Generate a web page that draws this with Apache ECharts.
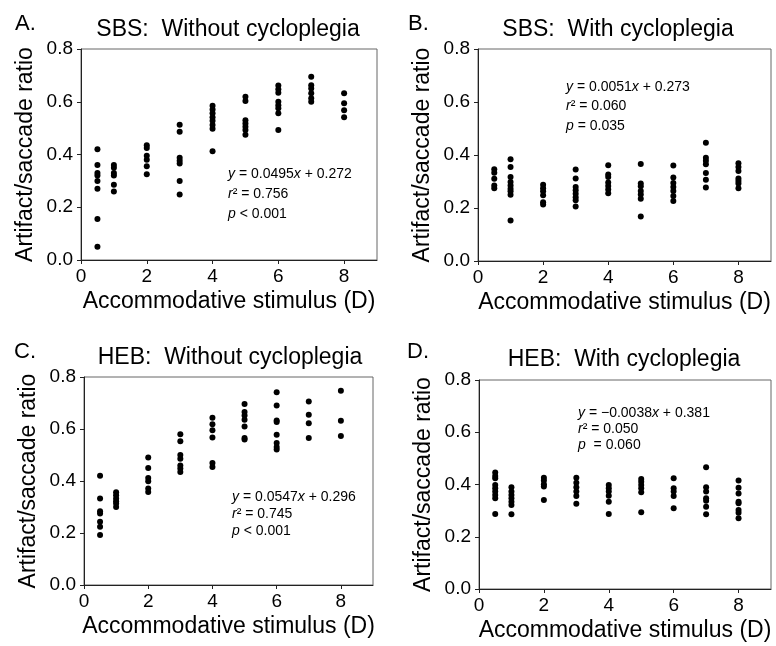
<!DOCTYPE html>
<html>
<head>
<meta charset="utf-8">
<script src="https://cdn.jsdelivr.net/npm/echarts@6/dist/echarts.min.js"></script>
<style>
  html, body { margin: 0; padding: 0; background: #fff; }
  #main { width: 776px; height: 646px; }
</style>
</head>
<body>
<div id="main"></div>
<script>
// accommodative stimulus levels (D)
var xLevels = [0.5, 1, 2, 3, 4, 5, 6, 7, 8];
var xTicks = [0, 2, 4, 6, 8];
var yTicks = [0, 0.2, 0.4, 0.6, 0.8];

// artifact/saccade ratio, one list per stimulus level
var sbsWithout = [
  [0.42, 0.36, 0.33, 0.32, 0.30, 0.27, 0.155, 0.05],
  [0.36, 0.35, 0.33, 0.32, 0.285, 0.26],
  [0.435, 0.425, 0.395, 0.38, 0.355, 0.325],
  [0.513, 0.486, 0.388, 0.376, 0.366, 0.30, 0.248],
  [0.585, 0.571, 0.556, 0.541, 0.528, 0.512, 0.498, 0.412],
  [0.619, 0.603, 0.53, 0.518, 0.505, 0.493, 0.475],
  [0.662, 0.647, 0.634, 0.60, 0.587, 0.575, 0.556, 0.493],
  [0.695, 0.663, 0.65, 0.632, 0.613, 0.60],
  [0.632, 0.594, 0.568, 0.541]
];
var sbsWith = [
  [0.346, 0.333, 0.31, 0.285, 0.275],
  [0.384, 0.355, 0.317, 0.298, 0.285, 0.273, 0.263, 0.25, 0.153],
  [0.288, 0.275, 0.263, 0.248, 0.222, 0.213],
  [0.345, 0.311, 0.279, 0.267, 0.254, 0.241, 0.229, 0.206],
  [0.361, 0.326, 0.317, 0.296, 0.283, 0.27, 0.256],
  [0.366, 0.292, 0.282, 0.264, 0.251, 0.235, 0.168],
  [0.36, 0.315, 0.294, 0.279, 0.264, 0.245, 0.226],
  [0.446, 0.39, 0.378, 0.365, 0.332, 0.307, 0.277],
  [0.369, 0.355, 0.34, 0.311, 0.302, 0.292, 0.275]
];
var hebWithout = [
  [0.42, 0.333, 0.284, 0.275, 0.243, 0.224, 0.192],
  [0.357, 0.345, 0.333, 0.322, 0.313, 0.30],
  [0.49, 0.45, 0.412, 0.399, 0.371, 0.358],
  [0.58, 0.553, 0.50, 0.486, 0.46, 0.448, 0.435],
  [0.643, 0.618, 0.595, 0.567, 0.469, 0.454],
  [0.696, 0.665, 0.652, 0.636, 0.61, 0.565, 0.56],
  [0.741, 0.69, 0.633, 0.627, 0.578, 0.546, 0.531, 0.521],
  [0.706, 0.655, 0.622, 0.565],
  [0.747, 0.632, 0.573]
];
var hebWith = [
  [0.446, 0.433, 0.424, 0.398, 0.386, 0.373, 0.36, 0.347, 0.287],
  [0.389, 0.373, 0.36, 0.347, 0.334, 0.322, 0.286],
  [0.426, 0.415, 0.401, 0.392, 0.341],
  [0.426, 0.407, 0.389, 0.373, 0.356, 0.326],
  [0.398, 0.386, 0.373, 0.357, 0.334, 0.287],
  [0.421, 0.411, 0.398, 0.386, 0.37, 0.294],
  [0.424, 0.386, 0.373, 0.356, 0.309],
  [0.466, 0.389, 0.373, 0.347, 0.338, 0.315, 0.286],
  [0.415, 0.388, 0.366, 0.334, 0.328, 0.302, 0.292, 0.271]
];

var panelTitles = ['SBS:  Without cycloplegia', 'SBS:  With cycloplegia', 'HEB:  Without cycloplegia', 'HEB:  With cycloplegia'];
var panelLetters = ['A.', 'B.', 'C.', 'D.'];
var equations = [
  ['{i|y} = 0.0495{i|x} + 0.272', '{i|r}\u00b2 = 0.756', '{i|p} < 0.001'],
  ['{i|y} = 0.0051{i|x} + 0.273', '{i|r}\u00b2 = 0.060', '{i|p} = 0.035'],
  ['{i|y} = 0.0547{i|x} + 0.296', '{i|r}\u00b2 = 0.745', '{i|p} < 0.001'],
  ['{i|y} = \u22120.0038{i|x} + 0.381', '{i|r}\u00b2 = 0.050', '{i|p}  = 0.060']
];
var xName = 'Accommodative stimulus (D)';
var yName = 'Artifact/saccade ratio';

var FONT = '"Liberation Sans", Arial, Helvetica, sans-serif';
var panelData = [sbsWithout, sbsWith, hebWithout, hebWith];

// plot boxes
var grids = [
  { left: 81, top: 49, width: 296, height: 211 },
  { left: 478, top: 49, width: 293, height: 212 },
  { left: 84, top: 377, width: 289, height: 208 },
  { left: 479, top: 380, width: 292, height: 209 }
];
// title / letter / equation positions
var titlePos = [[228, 30], [618, 30], [230, 358], [624, 360]];
var letterPos = [[15, 24], [408, 24], [14, 352], [407, 352]];
var eqPos = [[228, 174, 20], [566, 87, 19.5], [232, 497, 17], [578, 413, 16]];

function toPoints(groups) {
  var pts = [];
  for (var i = 0; i < groups.length; i++) {
    for (var j = 0; j < groups[i].length; j++) {
      pts.push([xLevels[i], groups[i][j]]);
    }
  }
  return pts;
}

var xAxes = [], yAxes = [], series = [], graphics = [];
for (var k = 0; k < 4; k++) {
  grids[k].show = true;
  grids[k].borderColor = '#666';
  grids[k].borderWidth = 1;
  xAxes.push({
    type: 'value', gridIndex: k, min: 0, max: 9, interval: 2,
    name: xName, nameLocation: 'middle', nameGap: 30,
    nameTextStyle: { fontFamily: FONT, fontSize: 23, color: '#000' },
    axisLine: { show: true, onZero: false, lineStyle: { color: '#222', width: 1 } },
    axisTick: { show: true, length: 4, customValues: xTicks, lineStyle: { color: '#222' } },
    axisLabel: { customValues: xTicks, margin: 7, fontFamily: FONT, fontSize: 19, color: '#000' },
    splitLine: { show: false }
  });
  yAxes.push({
    type: 'value', gridIndex: k, min: 0, max: 0.8, interval: 0.2,
    name: yName, nameLocation: 'middle', nameGap: 44,
    nameTextStyle: { fontFamily: FONT, fontSize: 23, color: '#000' },
    axisLine: { show: true, onZero: false, lineStyle: { color: '#222', width: 1 } },
    axisTick: { show: true, length: 4, lineStyle: { color: '#222' } },
    axisLabel: { margin: 8, fontFamily: FONT, fontSize: 19, color: '#000',
      formatter: function (v) { return v.toFixed(1); } },
    splitLine: { show: false }
  });
  series.push({
    type: 'scatter', xAxisIndex: k, yAxisIndex: k,
    symbol: 'circle', symbolSize: 6,
    itemStyle: { color: '#000', opacity: 1 },
    data: toPoints(panelData[k])
  });
  graphics.push({
    type: 'text', left: letterPos[k][0], top: letterPos[k][1] - 11,
    style: { text: panelLetters[k], font: '22px ' + FONT, fill: '#000' }
  });
  graphics.push({
    type: 'text', x: titlePos[k][0], y: titlePos[k][1],
    style: { text: panelTitles[k], font: '23px ' + FONT, fill: '#000', align: 'center', verticalAlign: 'middle' }
  });
  for (var e = 0; e < 3; e++) {
    graphics.push({
      type: 'text', x: eqPos[k][0], y: eqPos[k][1] + e * eqPos[k][2],
      style: {
        text: equations[k][e], fill: '#000', verticalAlign: 'middle',
        fontFamily: FONT, fontSize: 14,
        rich: { i: { fontFamily: FONT, fontSize: 14, fontStyle: 'italic', fill: '#000' } }
      }
    });
  }
}

var chart = echarts.init(document.getElementById('main'), null, { renderer: 'canvas' });
chart.setOption({
  animation: false,
  backgroundColor: '#fff',
  grid: grids,
  xAxis: xAxes,
  yAxis: yAxes,
  series: series,
  graphic: graphics
});
</script>
</body>
</html>
